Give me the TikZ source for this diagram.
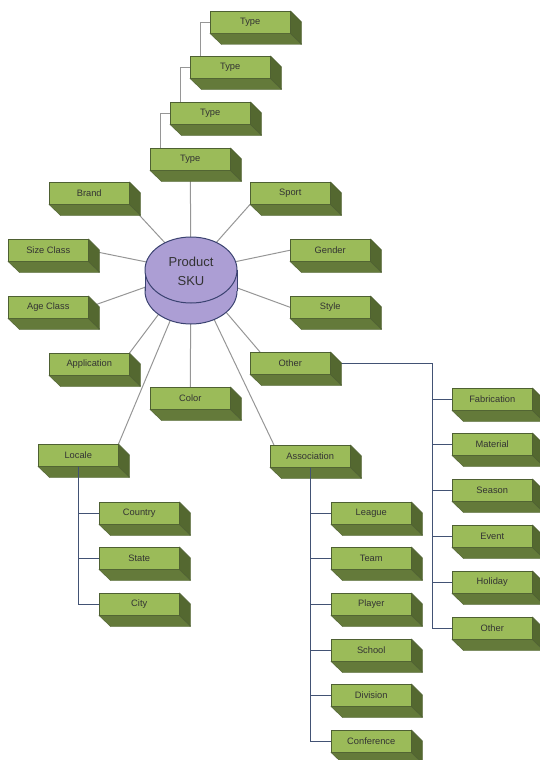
\documentclass[tikz,border=0pt]{standalone}
\usepackage{fontspec}
\setmainfont{Liberation Sans}
\usetikzlibrary{calc, backgrounds}

\definecolor{boxfront}{RGB}{155, 187, 89}    % light olive (front face)
\definecolor{boxbottom}{RGB}{100, 122, 58}   % bottom face
\definecolor{boxside}{RGB}{84, 104, 48}      % right face
\definecolor{boxedge}{RGB}{78, 96, 50}
\definecolor{skufill}{RGB}{172, 158, 212}    % lavender cylinder
\definecolor{skuedge}{RGB}{58, 66, 112}
\definecolor{spoke}{RGB}{150, 150, 150}
\definecolor{treeline}{RGB}{66, 82, 116}

\tikzset{
    skubox/.style={draw=boxedge, line width=0.5pt, fill=boxfront, anchor=north west,
        minimum width=80pt, minimum height=22pt, inner sep=0pt,
        font=\fontsize{9.3}{10}\selectfont, text=black!80},
    spokeline/.style={draw=spoke, line width=1pt},
    treelink/.style={draw=treeline, line width=1.3pt},
}

\begin{document}
\begin{tikzpicture}[x=1pt, y=-1pt]
\useasboundingbox (0,0) rectangle (539,760);

% --- TYPE CHAIN ---
\node[skubox] (type1) at (210,11)  {Type};
\node[skubox] (type2) at (190,56)  {Type};
\node[skubox] (type3) at (170,102) {Type};
\node[skubox] (type4) at (150,148) {Type};

% --- LEFT SIDE ---
\node[skubox] (brand) at (49,182)  {Brand};
\node[skubox] (size)  at (8,239)   {Size Class};
\node[skubox] (age)   at (8,296)   {Age Class};
\node[skubox] (appl)  at (49,353)  {Application};
\node[skubox] (color) at (150,387) {Color};
\node[skubox] (locale) at (38,444) {Locale};

\node[skubox] (country) at (99,502) {Country};
\node[skubox] (state)   at (99,547) {State};
\node[skubox] (city)    at (99,593) {City};

% --- RIGHT SIDE ---
\node[skubox] (sport)  at (250,182) {Sport};
\node[skubox] (gender) at (290,239) {Gender};
\node[skubox] (style)  at (290,296) {Style};
\node[skubox] (other)  at (250,352) {Other};
\node[skubox] (assoc)  at (270,445) {Association};

\node[skubox] (league) at (331,502) {League};
\node[skubox] (team)   at (331,547) {Team};
\node[skubox] (player) at (331,593) {Player};
\node[skubox] (school) at (331,639) {School};
\node[skubox] (divis)  at (331,684) {Division};
\node[skubox] (confer) at (331,730) {Conference};

\node[skubox] (fabric)  at (452,388) {Fabrication};
\node[skubox] (materl)  at (452,433) {Material};
\node[skubox] (season)  at (452,479) {Season};
\node[skubox] (event)   at (452,525) {Event};
\node[skubox] (holiday) at (452,571) {Holiday};
\node[skubox] (otherb)  at (452,617) {Other};

% depth faces of every box
\foreach \n in {type1,type2,type3,type4,brand,size,age,appl,color,locale,
                country,state,city,sport,gender,style,other,assoc,
                league,team,player,school,divis,confer,
                fabric,materl,season,event,holiday,otherb} {
    \filldraw[fill=boxbottom, draw=boxedge, line width=0.4pt]
        (\n.south west) -- (\n.south east) -- ++(11,11) -- ++(-80,0) -- cycle;
    \filldraw[fill=boxside, draw=boxedge, line width=0.4pt]
        (\n.north east) -- ++(11,11) -- ++(0,22) -- (\n.south east) -- cycle;
}

% --- PRODUCT SKU CYLINDER ---
\filldraw[fill=skufill, draw=skuedge, line width=1pt]
    (191,291) ellipse [x radius=46pt, y radius=33pt];
\fill[skufill] (145,270) rectangle (237,291);
\draw[skuedge, line width=1pt] (145,270) -- (145,291) (237,270) -- (237,291);
\filldraw[fill=skufill, draw=skuedge, line width=1pt]
    (191,270) ellipse [x radius=46pt, y radius=33pt];
\node[font=\fontsize{13}{19}\selectfont, text=black!80, align=center] (sku) at (191,271) {Product\\SKU};

% --- CONNECTORS (behind the boxes) ---
\begin{scope}[on background layer]
    \draw[spokeline] (type1.west) -| ([xshift=10pt]type2.north west);
    \draw[spokeline] (type2.west) -| ([xshift=10pt]type3.north west);
    \draw[spokeline] (type3.west) -| ([xshift=10pt]type4.north west);
    \draw[spokeline] (type4.south) -- (sku.center);
    \draw[spokeline] (sku.center) -- (brand.south east);
    \draw[spokeline] (sku.center) -- (size.east);
    \draw[spokeline] (sku.center) -- (age.east);
    \draw[spokeline] (sku.center) -- (appl.north east);
    \draw[spokeline] (sku.center) -- (color.north);
    \draw[spokeline] (sku.center) -- (locale.north east);
    \draw[spokeline] (sku.center) -- (sport.south west);
    \draw[spokeline] (sku.center) -- (gender.west);
    \draw[spokeline] (sku.center) -- (style.west);
    \draw[spokeline] (sku.center) -- ([xshift=10pt]other.north west);
    \draw[spokeline] (sku.center) -- ([xshift=4pt]assoc.north west);
    % Other -> attributes
    \coordinate (otrunk) at ($(other.east)+(102,0)$);
    \draw[treelink] (other.east) -- (otrunk);
    \foreach \c in {fabric,materl,season,event,holiday,otherb}
        \draw[treelink] (otrunk) |- (\c.west);
\end{scope}

% --- TREE LINKS ---
\foreach \c in {country,state,city}
    \draw[treelink] (locale.south) |- (\c.west);
\foreach \c in {league,team,player,school,divis,confer}
    \draw[treelink] (assoc.south) |- (\c.west);

\end{tikzpicture}
\end{document}
